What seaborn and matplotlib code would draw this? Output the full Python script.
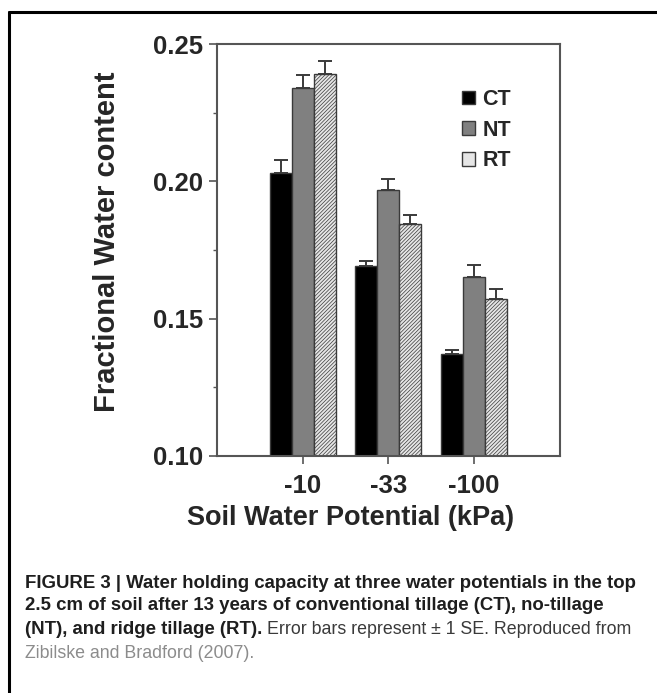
import numpy as np
import pandas as pd
import seaborn as sns
import matplotlib.pyplot as plt
from matplotlib.lines import Line2D
from matplotlib.ticker import MultipleLocator

potentials = ['-10', '-33', '-100']
treatments = ['CT', 'NT', 'RT']
ct_vals = [0.203, 0.169, 0.137]
nt_vals = [0.234, 0.197, 0.165]
rt_vals = [0.239, 0.1845, 0.157]
ct_se = [0.0048, 0.0020, 0.0015]
nt_se = [0.0047, 0.0040, 0.0044]
rt_se = [0.0048, 0.0031, 0.0037]

df = pd.DataFrame({
    'potential': potentials * 3,
    'treatment': [t for t in treatments for _ in potentials],
    'value': ct_vals + nt_vals + rt_vals,
    'se': ct_se + nt_se + rt_se,
})

sns.set_style('ticks')
plt.rcParams['font.family'] = ['Liberation Sans', 'DejaVu Sans']
plt.rcParams['hatch.color'] = '#b0b0b0'
plt.rcParams['hatch.linewidth'] = 0.5

fig = plt.figure(figsize=(6.57, 6.93), dpi=100)
ax = fig.add_axes([0.330, 0.342, 0.522, 0.5945])

palette = {'CT': '#000000', 'NT': '#808080', 'RT': '#e6e6e6'}
sns.barplot(data=df, x='potential', y='value', hue='treatment', order=potentials,
            hue_order=treatments, palette=palette, width=0.77, errorbar=None,
            edgecolor='#3a3a3a', linewidth=1.0, saturation=1, ax=ax)

# hatch RT bars and add one-sided SE bars from the drawn patches
for cont, t in zip(ax.containers, treatments):
    sub = df[df.treatment == t].set_index('potential').loc[potentials]
    xs = [p.get_x() + p.get_width() / 2 for p in cont.patches]
    hs = [p.get_height() for p in cont.patches]
    if t == 'RT':
        for p in cont.patches:
            p.set_hatch('/////////')
    ax.errorbar(xs, hs, yerr=[np.zeros(len(xs)), sub['se'].values], fmt='none',
                ecolor='#3a3a3a', elinewidth=1.4, capsize=5, capthick=1.4, zorder=1)

ax.set_xlim(-1, 3)
ax.set_ylim(0.10, 0.25)
ax.yaxis.set_major_locator(MultipleLocator(0.05))
ax.yaxis.set_minor_locator(MultipleLocator(0.025))
ax.yaxis.set_major_formatter(plt.FormatStrFormatter('%.2f'))
ax.tick_params(axis='both', which='major', length=6, width=1.2, color='#555555',
               labelsize=18.5, pad=4)
ax.tick_params(axis='x', which='major', pad=7)
ax.tick_params(axis='y', which='minor', length=3, width=1.0, color='#555555')
for lab in ax.get_xticklabels() + ax.get_yticklabels():
    lab.set_fontweight('bold')
for s in ax.spines.values():
    s.set_visible(True)
    s.set_color('#555555')
    s.set_linewidth(1.5)

ax.set_xlabel('Soil Water Potential (kPa)', fontsize=19.5, fontweight='bold')
ax.xaxis.set_label_coords(351 / 657, 1 - 518 / 693, transform=fig.transFigure)
ax.set_ylabel('Fractional Water content', fontsize=21, fontweight='bold')
ax.yaxis.set_label_coords(107 / 657, 1 - 242 / 693, transform=fig.transFigure)
ax.xaxis.label.set_va('center')
ax.yaxis.label.set_va('center')

leg = ax.legend(loc='upper left', bbox_to_anchor=(462 / 657, 1 - 89 / 693),
                bbox_transform=fig.transFigure, frameon=False,
                prop={'weight': 'bold', 'size': 15.5}, handlelength=0.6,
                handleheight=0.6, handletextpad=0.35, labelspacing=0.45,
                borderpad=0, borderaxespad=0)

# frame lines of the figure panel
fig.add_artist(Line2D([9 / 657, 9 / 657], [0, 1 - 12 / 693], color='black', lw=2.2,
                      transform=fig.transFigure))
fig.add_artist(Line2D([9 / 657, 1], [1 - 12 / 693, 1 - 12 / 693], color='black', lw=2.2,
                      transform=fig.transFigure))

# caption
cap_x = 25 / 657
cap_size = 13.4
lines_y = [583, 606, 630, 653]
fig.text(cap_x, 1 - lines_y[0] / 693,
         'FIGURE 3 | Water holding capacity at three water potentials in the top',
         fontsize=cap_size, fontweight='bold', color='#1e1e1e', va='center')
fig.text(cap_x, 1 - lines_y[1] / 693,
         '2.5 cm of soil after 13 years of conventional tillage (CT), no-tillage',
         fontsize=cap_size, fontweight='bold', color='#1e1e1e', va='center')
bold_part = fig.text(cap_x, 1 - lines_y[2] / 693, '(NT), and ridge tillage (RT).',
                     fontsize=cap_size, fontweight='bold', color='#1e1e1e', va='center')
fig.canvas.draw()
bb = bold_part.get_window_extent()
fig.text((bb.x1 + 5) / fig.bbox.width, 1 - lines_y[2] / 693,
         'Error bars represent \u00b1 1 SE. Reproduced from',
         fontsize=12.8, color='#3a3a3a', va='center')
fig.text(cap_x, 1 - lines_y[3] / 693, 'Zibilske and Bradford (2007).',
         fontsize=12.8, color='#8c8c8c', va='center')

fig.savefig('out.png', dpi=100)
